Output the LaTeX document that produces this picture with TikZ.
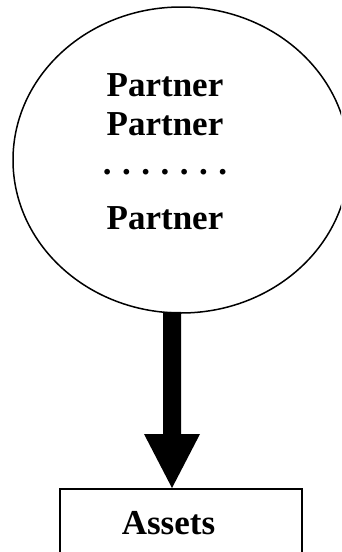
\documentclass[tikz,border=0pt]{standalone}
\usepackage{fontspec}
\setmainfont{Liberation Serif}
\usetikzlibrary{shapes.geometric,calc}
\begin{document}
\begin{tikzpicture}[x=1pt,y=-1pt]
\tikzset{
  lbl/.style={font=\fontsize{35}{35}\selectfont\bfseries, inner sep=0pt, anchor=base},
  outline/.style={draw, line width=1.5pt, inner sep=0pt}
}
\useasboundingbox (0,0) rectangle (341,552);
\clip (0,0) rectangle (341,552);
\fill[white] (0,0) rectangle (341,552);
\node[ellipse, outline, minimum width=336pt, minimum height=306pt] (e) at (181,160) {};
\node[outline, minimum width=242pt, minimum height=140pt, anchor=north] (b) at (181,488) {};
\node[lbl] (p1) at (165,96) {Partner};
\node[lbl] (p2) at (165,135) {Partner};
\node[lbl] (dots) at (165,174) {.\hspace{0.3em}.\hspace{0.3em}.\hspace{0.3em}.\hspace{0.3em}.\hspace{0.3em}.\hspace{0.3em}.};
\node[lbl] (p3) at (165,229) {Partner};
\node[lbl] (assets) at (168.5,534) {Assets};
\coordinate (s) at ($(e.south)+(-9,-2)$);
\coordinate (t) at (b.north -| s);
\fill ($(s)+(-9,0)$) -- ($(s)+(9,0)$) -- ($(t)+(9,-54)$) -- ($(t)+(28,-54)$) -- (t) -- ($(t)+(-28,-54)$) -- ($(t)+(-9,-54)$) -- cycle;
\end{tikzpicture}
\end{document}
